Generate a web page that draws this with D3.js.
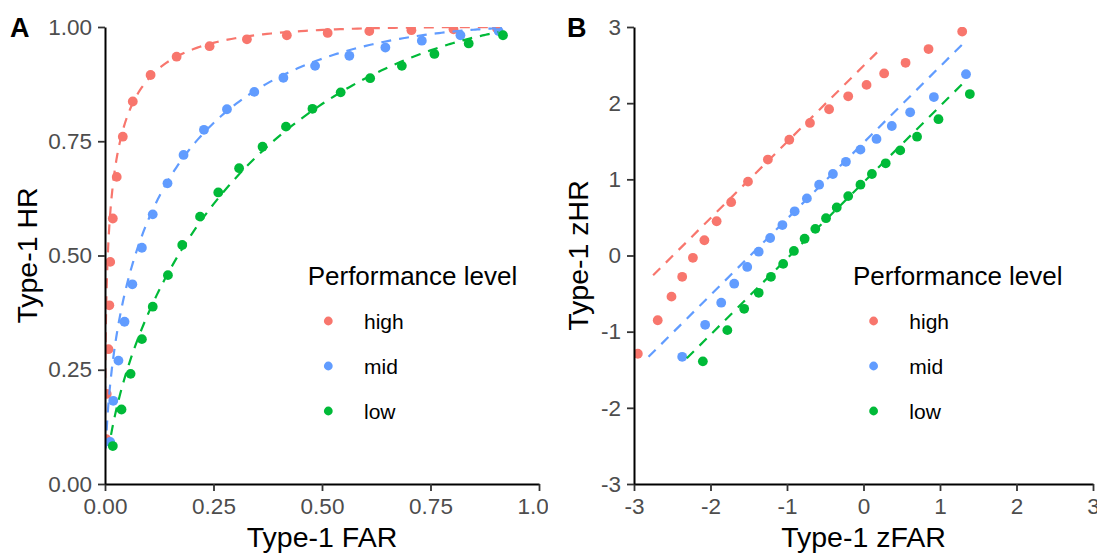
<!DOCTYPE html>
<html>
<head>
<meta charset="utf-8">
<script src="https://cdn.jsdelivr.net/npm/d3@7"></script>
<style>
  body { margin: 0; background: #fff; }
  text { font-family: "Liberation Sans", Arial, sans-serif; }
</style>
</head>
<body>
<div id="chart"></div>
<script>
// performance levels, in drawing order
const levels = ["high", "mid", "low"];
const colors = ["#F8766D", "#619CFF", "#00BA38"];

// panel A : type-1 FAR / HR
const farHigh = [0.003, 0.004, 0.008, 0.010, 0.012, 0.018, 0.027, 0.041, 0.064, 0.105, 0.165, 0.241, 0.327, 0.419, 0.513, 0.609, 0.706, 0.803, 0.903];
const hrHigh  = [0.098, 0.197, 0.295, 0.391, 0.486, 0.581, 0.672, 0.760, 0.837, 0.895, 0.935, 0.958, 0.973, 0.982, 0.987, 0.991, 0.993, 0.995, 0.997];
const farMid  = [0.012, 0.019, 0.031, 0.045, 0.063, 0.085, 0.110, 0.144, 0.181, 0.228, 0.281, 0.344, 0.411, 0.484, 0.563, 0.646, 0.730, 0.819, 0.907];
const hrMid   = [0.092, 0.182, 0.270, 0.355, 0.437, 0.517, 0.590, 0.658, 0.720, 0.775, 0.820, 0.858, 0.889, 0.915, 0.937, 0.955, 0.970, 0.982, 0.991];
const farLow  = [0.018, 0.038, 0.059, 0.085, 0.110, 0.145, 0.178, 0.219, 0.261, 0.309, 0.363, 0.417, 0.478, 0.543, 0.611, 0.684, 0.759, 0.838, 0.917];
const hrLow   = [0.083, 0.163, 0.241, 0.317, 0.388, 0.457, 0.523, 0.585, 0.638, 0.691, 0.738, 0.782, 0.821, 0.857, 0.888, 0.915, 0.941, 0.964, 0.982];

// panel B : type-1 zFAR / zHR
const zfarHigh = [-2.95, -2.69, -2.51, -2.37, -2.23, -2.08, -1.92, -1.73, -1.51, -1.25, -0.97, -0.70, -0.45, -0.20, 0.04, 0.27, 0.55, 0.85, 1.29];
const zhrHigh  = [-1.29, -0.85, -0.54, -0.28, -0.03, 0.20, 0.45, 0.70, 0.97, 1.26, 1.52, 1.74, 1.92, 2.09, 2.24, 2.39, 2.53, 2.71, 2.94];
const zfarMid  = [-2.37, -2.07, -1.86, -1.69, -1.52, -1.37, -1.22, -1.06, -0.90, -0.74, -0.58, -0.40, -0.23, -0.04, 0.17, 0.37, 0.61, 0.92, 1.34];
const zhrMid   = [-1.33, -0.91, -0.62, -0.37, -0.15, 0.05, 0.23, 0.40, 0.58, 0.75, 0.93, 1.07, 1.23, 1.39, 1.53, 1.70, 1.88, 2.08, 2.38];
const zfarLow  = [-2.10, -1.78, -1.56, -1.37, -1.21, -1.05, -0.91, -0.77, -0.63, -0.49, -0.35, -0.20, -0.04, 0.11, 0.29, 0.48, 0.70, 0.98, 1.39];
const zhrLow   = [-1.39, -0.98, -0.70, -0.49, -0.28, -0.11, 0.06, 0.22, 0.35, 0.49, 0.63, 0.78, 0.93, 1.07, 1.21, 1.38, 1.56, 1.79, 2.12];

// fitted model (equal variance SDT): zHR = zFAR + d'
const dPrime = [2.49, 1.48, 0.96];
const lineRangeB = [[-2.75, 0.23], [-2.81, 1.30], [-2.31, 1.35]];   // zFAR span of dashed lines in B
const curveRangeA = [[-3.7, 1.34], [-2.9, 1.28], [-2.2, 1.32]];     // zFAR span of dashed curves in A

const ticksA = [0, 0.25, 0.5, 0.75, 1];
const ticksB = [-3, -2, -1, 0, 1, 2, 3];

const W = 1097, H = 555;
const svg = d3.select("#chart").append("svg")
    .attr("width", W).attr("height", H)
    .style("background", "#fff");

// normal cdf (Abramowitz-Stegun erf)
function pnorm(z) {
    let x = Math.abs(z) / Math.SQRT2;
    let t = 1 / (1 + 0.3275911 * x);
    let y = 1 - (((((1.061405429 * t - 1.453152027) * t) + 1.421413741) * t - 0.284496736) * t + 0.254829592) * t * Math.exp(-x * x);
    return z >= 0 ? 0.5 * (1 + y) : 0.5 * (1 - y);
}

const pointsA = [[farHigh, hrHigh], [farMid, hrMid], [farLow, hrLow]];
const pointsB = [[zfarHigh, zhrHigh], [zfarMid, zhrMid], [zfarLow, zhrLow]];

function panel(opt) {
    const x = d3.scaleLinear().domain(opt.xdom).range(opt.xr);
    const y = d3.scaleLinear().domain(opt.ydom).range([484, 27]);
    const g = svg.append("g");
    if (opt.clip) g.attr("clip-path", `url(#${opt.clip})`);

    const clipId = "clip" + opt.label;
    g.append("clipPath").attr("id", clipId)
      .append("rect")
      .attr("x", opt.xr[0]).attr("y", 27)
      .attr("width", opt.xr[1] - opt.xr[0]).attr("height", 484 - 27);

    const plot = g.append("g").attr("clip-path", `url(#${clipId})`);

    // points
    opt.points.forEach((p, i) => {
        plot.append("g").selectAll("circle")
            .data(d3.range(p[0].length))
            .join("circle")
            .attr("cx", j => x(p[0][j]))
            .attr("cy", j => y(p[1][j]))
            .attr("r", 4.9)
            .attr("fill", colors[i]);
    });
    // dashed fits
    opt.lines.forEach((ln, i) => {
        plot.append("path")
            .datum(ln)
            .attr("fill", "none")
            .attr("stroke", colors[i])
            .attr("stroke-width", 2.2)
            .attr("stroke-dasharray", "10,8")
            .attr("d", d3.line().x(d => x(d[0])).y(d => y(d[1])));
    });

    // axes
    const xAxis = g.append("g").attr("transform", "translate(0,484)")
        .call(d3.axisBottom(x).tickValues(opt.ticks).tickFormat(opt.fmt)
            .tickSize(7).tickSizeOuter(0).tickPadding(7));
    const yAxis = g.append("g").attr("transform", `translate(${opt.xr[0]},0)`)
        .call(d3.axisLeft(y).tickValues(opt.ticks).tickFormat(opt.fmt)
            .tickSize(7).tickSizeOuter(0).tickPadding(6));
    [xAxis, yAxis].forEach(a => {
        a.select(".domain").attr("stroke", "#000").attr("stroke-width", 2);
        a.selectAll(".tick line").attr("stroke", "#333").attr("stroke-width", 1.8);
        a.selectAll(".tick text")
            .attr("fill", "#4d4d4d")
            .style("font-size", "22.5px")
            .style("font-family", "'Liberation Sans', Arial, sans-serif");
    });

    // titles
    g.append("text")
        .attr("x", (opt.xr[0] + opt.xr[1]) / 2).attr("y", 547)
        .attr("text-anchor", "middle")
        .style("font-size", "28.5px")
        .text(opt.xtitle);
    g.append("text")
        .attr("transform", `translate(${opt.ytx},255.5) rotate(-90)`)
        .attr("text-anchor", "middle")
        .style("font-size", "28.5px")
        .text(opt.ytitle);
    g.append("text")
        .attr("x", opt.lx).attr("y", 37)
        .style("font-size", "27px").style("font-weight", "bold")
        .text(opt.label);

    // legend
    const leg = g.append("g");
    leg.append("text")
        .attr("x", opt.legX).attr("y", 285)
        .style("font-size", "26px")
        .text("Performance level");
    levels.forEach((lv, i) => {
        const ky = 321 + i * 45;
        leg.append("circle")
            .attr("cx", opt.legX + 20.6).attr("cy", ky).attr("r", 4.4)
            .attr("fill", colors[i]);
        leg.append("text")
            .attr("x", opt.legX + 56.3).attr("y", ky + 7.5)
            .style("font-size", "21px")
            .text(lv);
    });
}

// dashed curves/lines from the fitted d'
const linesA = curveRangeA.map((r, i) =>
    d3.range(0, 201).map(k => {
        const z = r[0] + (r[1] - r[0]) * k / 200;
        return [pnorm(z), pnorm(z + dPrime[i])];
    }));
const linesB = lineRangeB.map((r, i) => r.map(z => [z, z + dPrime[i]]));

// panel A is cut at the edge of its own figure region
svg.append("clipPath").attr("id", "figA")
   .append("rect").attr("x", 0).attr("y", 0).attr("width", 548).attr("height", H);

panel({
    label: "A", lx: 10, clip: "figA",
    xdom: [0, 1], ydom: [0, 1], xr: [105, 539],
    ticks: ticksA, fmt: d3.format(".2f"),
    points: pointsA, lines: linesA,
    xtitle: "Type-1 FAR", ytitle: "Type-1 HR", ytx: 37,
    legX: 307.7
});

panel({
    label: "B", lx: 567,
    xdom: [-3, 3], ydom: [-3, 3], xr: [634, 1093],
    ticks: ticksB, fmt: d => String(d),
    points: pointsB, lines: linesB,
    xtitle: "Type-1 zFAR", ytitle: "Type-1 zHR", ytx: 588,
    legX: 853
});
</script>
</body>
</html>
